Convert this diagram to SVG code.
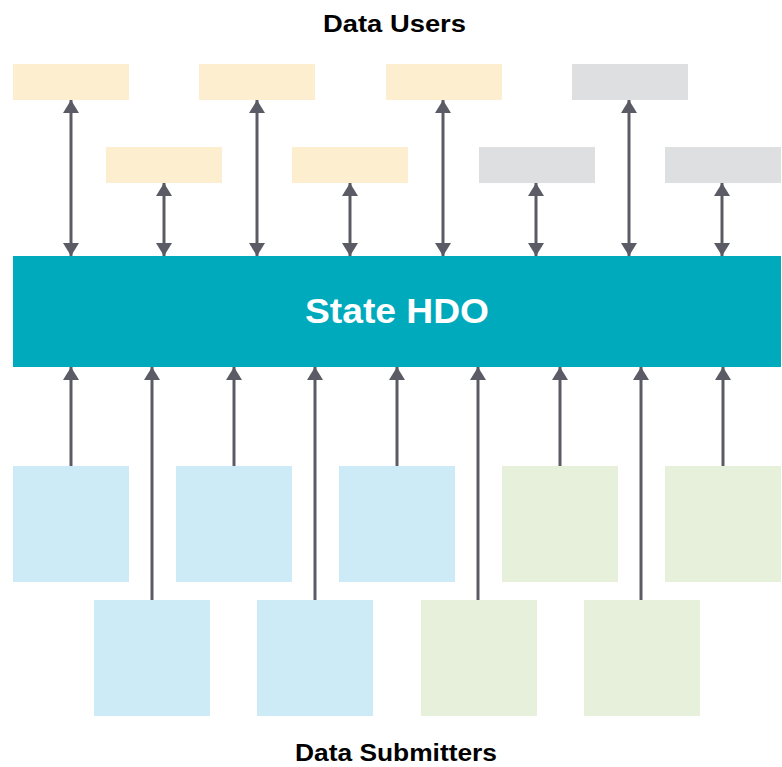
<svg xmlns="http://www.w3.org/2000/svg" width="782" height="767" viewBox="0 0 782 767">
  <style>
    .user { fill: #FDEED0; }
    .ext { fill: #DEDFE1; }
    .sub { fill: #CDEBF6; }
    .sub2 { fill: #E6F0DA; }
    .hdo { fill: #00AABD; }
    .title { font-family: "Liberation Sans", Arial, sans-serif; font-weight: bold; font-size: 23px; fill: #000; }
    .hdotext { font-family: "Liberation Sans", Arial, sans-serif; font-weight: bold; font-size: 35px; fill: #fff; }
    .conn line { stroke: #5A5B65; stroke-width: 3; fill: none; }
  </style>
  <defs>
    <marker id="ah" viewBox="0 0 13 16" refX="13" refY="8" markerWidth="13" markerHeight="16" markerUnits="userSpaceOnUse" orient="auto-start-reverse">
      <path d="M0,0 L13,8 L0,16 Z" fill="#5A5B65"/>
    </marker>
  </defs>
  <rect width="782" height="767" fill="#fff"/>

  <text class="title" x="394.5" y="31.5" text-anchor="middle" textLength="143" lengthAdjust="spacingAndGlyphs">Data Users</text>
  <text class="title" x="396" y="761" text-anchor="middle" textLength="202" lengthAdjust="spacingAndGlyphs">Data Submitters</text>

  <g id="users">
    <g id="u1"><rect class="user" x="13" y="64" width="116" height="36"/></g>
    <g id="u2"><rect class="user" x="199" y="64" width="116" height="36"/></g>
    <g id="u3"><rect class="user" x="386" y="64" width="116" height="36"/></g>
    <g id="u4"><rect class="ext" x="572" y="64" width="116" height="36"/></g>
    <g id="u5"><rect class="user" x="106" y="147" width="116" height="36"/></g>
    <g id="u6"><rect class="user" x="292" y="147" width="116" height="36"/></g>
    <g id="u7"><rect class="ext" x="479" y="147" width="116" height="36"/></g>
    <g id="u8"><rect class="ext" x="665" y="147" width="116" height="36"/></g>
  </g>

  <g id="hdo">
    <rect class="hdo" x="13" y="256" width="768" height="111"/>
    <text class="hdotext" x="397" y="323" text-anchor="middle" textLength="184" lengthAdjust="spacingAndGlyphs">State HDO</text>
  </g>

  <g id="submitters">
    <g id="s1"><rect class="sub" x="13" y="466" width="116" height="116"/></g>
    <g id="s2"><rect class="sub" x="176" y="466" width="116" height="116"/></g>
    <g id="s3"><rect class="sub" x="339" y="466" width="116" height="116"/></g>
    <g id="s4"><rect class="sub2" x="502" y="466" width="116" height="116"/></g>
    <g id="s5"><rect class="sub2" x="665" y="466" width="116" height="116"/></g>
    <g id="s6"><rect class="sub" x="94" y="600" width="116" height="116"/></g>
    <g id="s7"><rect class="sub" x="257" y="600" width="116" height="116"/></g>
    <g id="s8"><rect class="sub2" x="421" y="600" width="116" height="116"/></g>
    <g id="s9"><rect class="sub2" x="584" y="600" width="116" height="116"/></g>
  </g>

  <g id="connectors" class="conn">
    <line x1="71" y1="100" x2="71" y2="256" marker-start="url(#ah)" marker-end="url(#ah)"/>
    <line x1="257" y1="100" x2="257" y2="256" marker-start="url(#ah)" marker-end="url(#ah)"/>
    <line x1="443" y1="100" x2="443" y2="256" marker-start="url(#ah)" marker-end="url(#ah)"/>
    <line x1="629" y1="100" x2="629" y2="256" marker-start="url(#ah)" marker-end="url(#ah)"/>
    <line x1="164" y1="183" x2="164" y2="256" marker-start="url(#ah)" marker-end="url(#ah)"/>
    <line x1="350" y1="183" x2="350" y2="256" marker-start="url(#ah)" marker-end="url(#ah)"/>
    <line x1="536" y1="183" x2="536" y2="256" marker-start="url(#ah)" marker-end="url(#ah)"/>
    <line x1="722" y1="183" x2="722" y2="256" marker-start="url(#ah)" marker-end="url(#ah)"/>

    <line x1="71" y1="466" x2="71" y2="367" marker-end="url(#ah)"/>
    <line x1="234" y1="466" x2="234" y2="367" marker-end="url(#ah)"/>
    <line x1="397" y1="466" x2="397" y2="367" marker-end="url(#ah)"/>
    <line x1="560" y1="466" x2="560" y2="367" marker-end="url(#ah)"/>
    <line x1="723" y1="466" x2="723" y2="367" marker-end="url(#ah)"/>
    <line x1="152" y1="600" x2="152" y2="367" marker-end="url(#ah)"/>
    <line x1="315" y1="600" x2="315" y2="367" marker-end="url(#ah)"/>
    <line x1="478" y1="600" x2="478" y2="367" marker-end="url(#ah)"/>
    <line x1="641" y1="600" x2="641" y2="367" marker-end="url(#ah)"/>
  </g>
</svg>
